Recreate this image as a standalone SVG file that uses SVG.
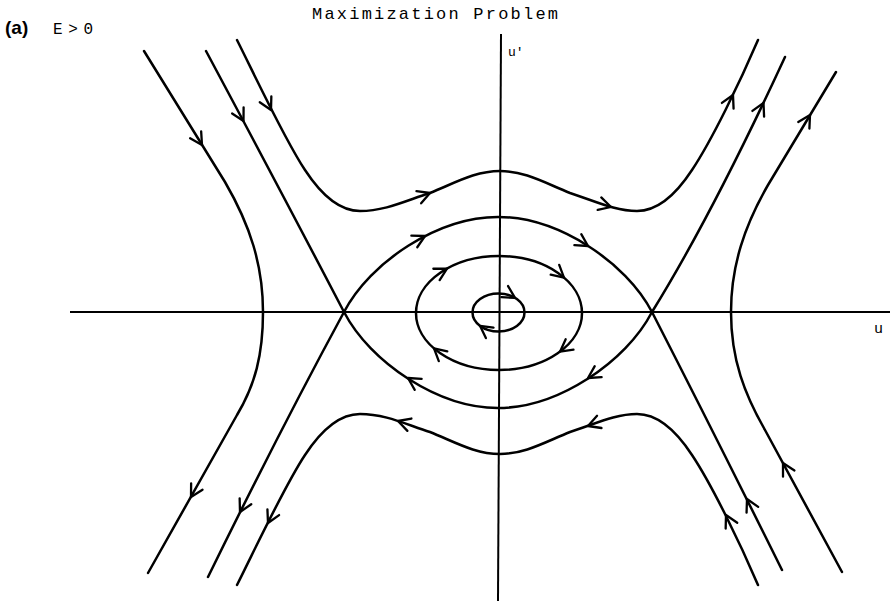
<svg xmlns="http://www.w3.org/2000/svg" xmlns:xlink="http://www.w3.org/1999/xlink" width="890" height="601" viewBox="0 0 890 601">
<defs>
<style>
.c{fill:none;stroke:#000;stroke-width:2.5;stroke-linecap:round;stroke-linejoin:round}
.ax{fill:none;stroke:#000;stroke-width:2}
.ah{fill:none;stroke:#000;stroke-width:2.3;stroke-linecap:round;stroke-linejoin:round}
.mono{font-family:"Liberation Mono","DejaVu Sans Mono",monospace;fill:#000}
.bold{font-family:"Liberation Sans",Arial,sans-serif;font-weight:bold;fill:#000}
</style>
<path id="ah" d="M-12,-6.5 L0,0 L-12,6.5"/>
</defs>
<rect width="890" height="601" fill="#fff"/>

<g id="labels">
<text class="mono" x="312" y="19" font-size="17" textLength="246" lengthAdjust="spacing">Maximization Problem</text>
<text class="bold" x="5" y="34" font-size="19">(a)</text>
<text class="mono" x="53" y="34" font-size="16" textLength="40" lengthAdjust="spacing">E&gt;0</text>
<text class="mono" x="508" y="56" font-size="13">u'</text>
<text class="mono" x="874" y="333" font-size="15">u</text>
</g>

<g id="axes">
<line class="ax" x1="70" y1="312" x2="890" y2="312"/>
<line class="ax" x1="501" y1="34" x2="498" y2="601"/>
</g>

<g id="trajectories">
<path class="c" d="M144,51 L225,182 C250,225 263,265 263,312 C263,355 255,385 237,415 L148,573"/>
<path class="c" d="M836,72 L768,185 C745,225 731,265 731,312 C731,360 745,395 765,430 L842,572"/>
<path class="c" d="M206,51 Q283,195 344,312"/>
<path class="c" d="M344,312 Q279,432 208,577"/>
<path class="c" d="M652,312 Q712,215 785,57"/>
<path class="c" d="M652,312 Q715,435 782,570"/>
<path class="c" d="M344,312 C370,262 438,217 498,217 C558,217 626,262 652,312"/>
<path class="c" d="M344,312 C370,362 438,408 498,408 C558,408 626,362 652,312"/>
<path class="c" d="M237,40 C258,82 285,140 305,170 C322,196 340,211 360,211 C385,211 405,201 430,193 C455,183 475,171 500,171 C525,171 545,183 570,193 C595,201 615,211 637,211 C657,211 675,196 692,170 C712,140 740,82 758,40"/>
<path class="c" d="M237,585 C258,543 285,485 305,455 C322,429 340,414 360,414 C385,414 405,424 430,432 C455,442 475,454 500,454 C525,454 545,442 570,432 C595,424 615,414 637,414 C657,414 675,429 692,455 C712,485 740,543 758,585"/>
<ellipse class="c" cx="499" cy="313" rx="83" ry="57"/>
<ellipse class="c" cx="498.5" cy="312.5" rx="26" ry="19"/>
</g>

<g id="arrowheads" class="ah">
<use xlink:href="#ah" transform="translate(202,145) rotate(58)"/>
<use xlink:href="#ah" transform="translate(191,497) rotate(119)"/>
<use xlink:href="#ah" transform="translate(243.5,121) rotate(62)"/>
<use xlink:href="#ah" transform="translate(240,512) rotate(117)"/>
<use xlink:href="#ah" transform="translate(271,110) rotate(63)"/>
<use xlink:href="#ah" transform="translate(430,193) rotate(-21)"/>
<use xlink:href="#ah" transform="translate(611,207) rotate(16)"/>
<use xlink:href="#ah" transform="translate(733,95) rotate(-64)"/>
<use xlink:href="#ah" transform="translate(763.5,103) rotate(-64)"/>
<use xlink:href="#ah" transform="translate(810,115) rotate(-59)"/>
<use xlink:href="#ah" transform="translate(747,499) rotate(-116.6)"/>
<use xlink:href="#ah" transform="translate(783,463) rotate(-118.5)"/>
<use xlink:href="#ah" transform="translate(726,515) rotate(-117)"/>
<use xlink:href="#ah" transform="translate(588,426) rotate(160)"/>
<use xlink:href="#ah" transform="translate(398,421) rotate(198)"/>
<use xlink:href="#ah" transform="translate(268,523) rotate(116)"/>
<use xlink:href="#ah" transform="translate(425,236) rotate(-27)"/>
<use xlink:href="#ah" transform="translate(588,246) rotate(32)"/>
<use xlink:href="#ah" transform="translate(588,378) rotate(148)"/>
<use xlink:href="#ah" transform="translate(408,378) rotate(212)"/>
<use xlink:href="#ah" transform="translate(447,268.6) rotate(-29)"/>
<use xlink:href="#ah" transform="translate(564,277.6) rotate(41)"/>
<use xlink:href="#ah" transform="translate(560,351.7) rotate(143)"/>
<use xlink:href="#ah" transform="translate(434,348.4) rotate(221)"/>
<use xlink:href="#ah" transform="translate(515,297.8) rotate(31)"/>
<use xlink:href="#ah" transform="translate(480,325.8) rotate(216)"/>
</g>
</svg>
